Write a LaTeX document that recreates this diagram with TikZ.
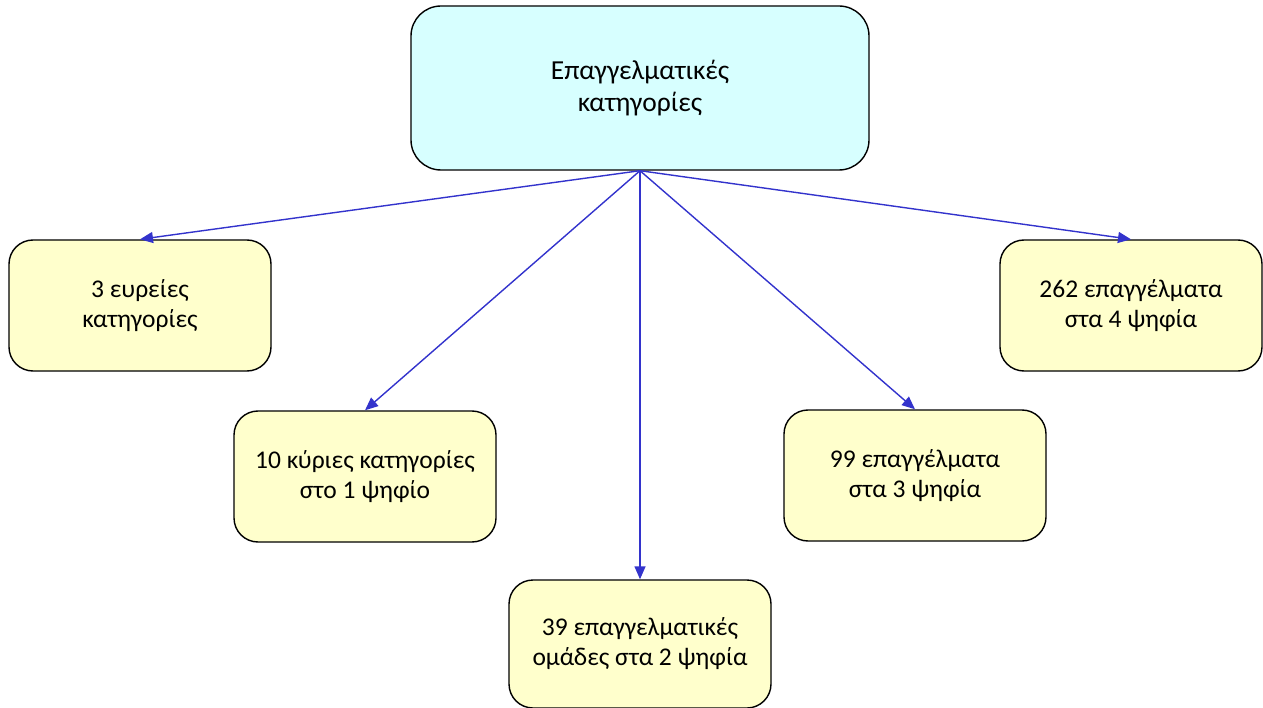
\documentclass[tikz,border=0pt]{standalone}
\usepackage{fontspec}
\setmainfont{Carlito}
\usetikzlibrary{arrows.meta}
\definecolor{topfill}{HTML}{D7FFFF}
\definecolor{boxfill}{HTML}{FFFFCC}
\definecolor{arrowblue}{HTML}{3333CC}
\tikzset{
  topbox/.style={draw=black, line width=1.4pt, fill=topfill, rounded corners=30pt,
    minimum width=458pt, minimum height=164pt, align=center, inner sep=0pt,
    font=\fontsize{27.5pt}{32pt}\selectfont},
  leafbox/.style={draw=black, line width=1.4pt, fill=boxfill, rounded corners=24pt,
    minimum width=262pt, minimum height=131pt, align=center, inner sep=0pt,
    font=\fontsize{25.5pt}{30pt}\selectfont},
  conn/.style={draw=arrowblue, line width=1.4pt, -{Triangle[length=13pt,width=11pt]}}
}
\begin{document}
\begin{tikzpicture}[x=1pt,y=-1pt]
\useasboundingbox (0,0) rectangle (1263,708);
\node[topbox] (top) at (640,88) {Επαγγελματικές\\κατηγορίες};
\node[leafbox] (b1) at (140,305.5) {3 ευρείες\\κατηγορίες};
\node[leafbox] (b2) at (365,476.5) {10 κύριες κατηγορίες\\στο 1 ψηφίο};
\node[leafbox, minimum height=128pt] (b3) at (640,644) {39 επαγγελματικές\\ομάδες στα 2 ψηφία};
\node[leafbox] (b4) at (915,475.5) {99 επαγγέλματα\\στα 3 ψηφία};
\node[leafbox] (b5) at (1131,305.5) {262 επαγγέλματα\\στα 4 ψηφία};
\draw[conn] (top.south) -- (b1.north);
\draw[conn] (top.south) -- (b2.north);
\draw[conn] (top.south) -- (b3.north);
\draw[conn] (top.south) -- (b4.north);
\draw[conn] (top.south) -- (b5.north);
\end{tikzpicture}
\end{document}
